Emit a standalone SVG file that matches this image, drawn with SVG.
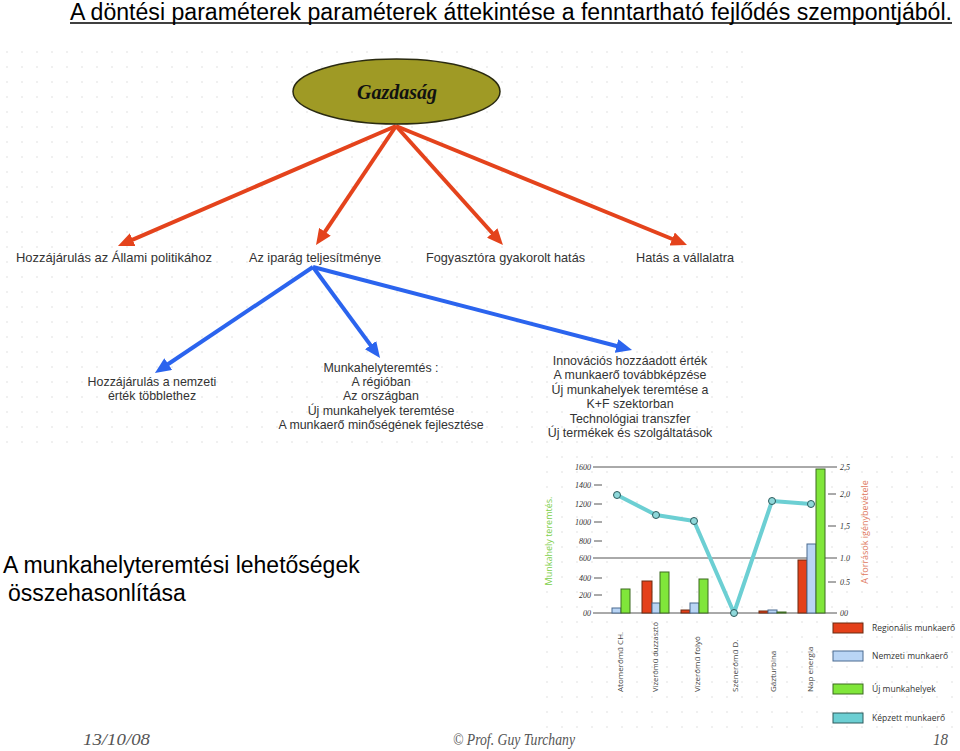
<svg xmlns="http://www.w3.org/2000/svg" width="960" height="751" viewBox="0 0 960 751">
<defs>
<pattern id="dots" width="15" height="15" patternUnits="userSpaceOnUse">
<circle cx="7" cy="7" r="0.8" fill="#dcdcdc"/>
</pattern>
<marker id="ahR" markerUnits="userSpaceOnUse" viewBox="0 0 16 14" markerWidth="16" markerHeight="14" refX="8" refY="7" orient="auto">
<path d="M0,0 L16,7 L0,14 Z" fill="#e4431c"/>
</marker>
<marker id="ahB" markerUnits="userSpaceOnUse" viewBox="0 0 16 14" markerWidth="16" markerHeight="14" refX="8" refY="7" orient="auto">
<path d="M0,0 L16,7 L0,14 Z" fill="#2b64ee"/>
</marker>
</defs>
<style>
.lbl{font-family:"Liberation Sans",Arial,sans-serif;font-size:12.4px;fill:#333}
.blk{font-family:"Liberation Sans",Arial,sans-serif;font-size:12.4px;fill:#333;text-anchor:middle}
.ax{font-family:"Liberation Serif",serif;font-style:italic;font-size:8px;fill:#333}
.xl{font-family:"Open Sans","Noto Sans",sans-serif;font-size:8px;fill:#444}
.lg{font-family:"Open Sans","Noto Sans",sans-serif;font-size:8.5px;fill:#333}
.red{stroke:#e4431c;stroke-width:4;fill:none;marker-end:url(#ahR)}
.blue{stroke:#2b64ee;stroke-width:4;fill:none;marker-end:url(#ahB)}
.br{fill:#e4401a;stroke:#6a2a10;stroke-width:1}
.bb{fill:#b9d5f5;stroke:#4a6a90;stroke-width:1}
.bg{fill:#80e63a;stroke:#3d6a20;stroke-width:1}
.gl{stroke:#555;stroke-width:1}
.foot{font-family:"Liberation Serif",serif;font-style:italic;font-size:17px;fill:#555}
.sub{font-family:"Liberation Sans",Arial,sans-serif;font-size:23px;fill:#000}
</style>
<rect width="960" height="751" fill="#fff"/>
<rect x="0" y="38" width="748" height="418" fill="url(#dots)"/>
<rect x="540" y="456" width="420" height="272" fill="url(#dots)"/>

<g id="title">
<text x="70" y="20" font-family="Liberation Sans, Arial, sans-serif" font-size="23" fill="#000" textLength="882" lengthAdjust="spacingAndGlyphs">A döntési paraméterek paraméterek áttekintése a fenntartható fejlődés szempontjából.</text>
<line x1="70" y1="23" x2="952" y2="23" stroke="#000" stroke-width="1.5"/>
</g>

<g id="connectors">
<path class="red" d="M396,126 L125.3,242.8"/>
<path class="red" d="M396,126 L320.5,238.4"/>
<path class="red" d="M396,126 L497.6,239"/>
<path class="red" d="M396,126 L679.6,242"/>
<path class="blue" d="M313,267 L161.6,368.5"/>
<path class="blue" d="M313,267 L375.3,351.6"/>
<path class="blue" d="M313,267 L624.3,348"/>
</g>

<g id="gazdasag">
<ellipse cx="396.5" cy="91.5" rx="103.5" ry="32.5" fill="#9f9a25" stroke="#2a2a10" stroke-width="1.5"/>
<text x="397" y="99" text-anchor="middle" font-family="Liberation Serif, serif" font-style="italic" font-weight="bold" font-size="20" fill="#111">Gazdaság</text>
</g>

<g id="allami"><text class="lbl" x="16" y="262" textLength="196" lengthAdjust="spacingAndGlyphs">Hozzájárulás az Állami politikához</text></g>
<g id="iparag"><text class="lbl" x="249" y="262" textLength="132" lengthAdjust="spacingAndGlyphs">Az iparág teljesítménye</text></g>
<g id="fogyaszto"><text class="lbl" x="426" y="262" textLength="159" lengthAdjust="spacingAndGlyphs">Fogyasztóra gyakorolt hatás</text></g>
<g id="vallalat"><text class="lbl" x="636" y="262" textLength="98" lengthAdjust="spacingAndGlyphs">Hatás a vállalatra</text></g>

<g id="nemzeti">
<text class="blk" x="152" y="386">Hozzájárulás a nemzeti</text>
<text class="blk" x="152" y="400">érték többlethez</text>
</g>
<g id="munkahely">
<text class="blk" x="381" y="372">Munkahelyteremtés :</text>
<text class="blk" x="381" y="386">A régióban</text>
<text class="blk" x="381" y="400">Az országban</text>
<text class="blk" x="381" y="415">Új munkahelyek teremtése</text>
<text class="blk" x="381" y="429">A munkaerő minőségének fejlesztése</text>
</g>
<g id="innovacio">
<text class="blk" x="630" y="365">Innovációs hozzáadott érték</text>
<text class="blk" x="630" y="379">A munkaerő továbbképzése</text>
<text class="blk" x="630" y="394">Új munkahelyek teremtése a</text>
<text class="blk" x="630" y="408">K+F szektorban</text>
<text class="blk" x="630" y="423">Technológiai transzfer</text>
<text class="blk" x="630" y="437">Új termékek és szolgáltatások</text>
</g>

<g id="subtitle">
<text class="sub" x="3" y="573">A munkahelyteremtési lehetőségek</text>
<text class="sub" x="8" y="601">összehasonlítása</text>
</g>

<g id="chart">
<line class="gl" x1="593" y1="467" x2="837" y2="467"/>
<line class="gl" x1="593" y1="558" x2="837" y2="558"/>
<line class="gl" x1="593" y1="613" x2="837" y2="613"/>
<g class="gl">
<line x1="594" y1="485" x2="602" y2="485"/>
<line x1="594" y1="504" x2="602" y2="504"/>
<line x1="594" y1="522" x2="602" y2="522"/>
<line x1="594" y1="541" x2="602" y2="541"/>
<line x1="594" y1="578" x2="602" y2="578"/>
<line x1="594" y1="595" x2="602" y2="595"/>
<line x1="828" y1="494" x2="836" y2="494"/>
<line x1="828" y1="526" x2="836" y2="526"/>
<line x1="828" y1="582" x2="836" y2="582"/>
</g>
<g class="ax" text-anchor="end">
<text x="591" y="470">1600</text>
<text x="591" y="488">1400</text>
<text x="591" y="507">1200</text>
<text x="591" y="525">1000</text>
<text x="591" y="544">800</text>
<text x="591" y="561">600</text>
<text x="591" y="581">400</text>
<text x="591" y="598">200</text>
<text x="591" y="616">00</text>
</g>
<g class="ax">
<text x="840" y="470">2,5</text>
<text x="840" y="497">2,0</text>
<text x="840" y="529">1,5</text>
<text x="840" y="561">1.0</text>
<text x="840" y="585">0.5</text>
<text x="840" y="616">00</text>
</g>
<text x="0" y="0" transform="translate(552,541) rotate(-90)" text-anchor="middle" font-family="Open Sans, Noto Sans, sans-serif" font-size="9" fill="#7ccf4a">Munkahely teremtés.</text>
<text x="0" y="0" transform="translate(868,532) rotate(-90)" text-anchor="middle" font-family="Open Sans, Noto Sans, sans-serif" font-size="9" fill="#e07a60">A források igénybevétele</text>

<rect class="bb" x="612" y="608" width="9" height="5"/>
<rect class="bg" x="621" y="589" width="9" height="24"/>
<rect class="br" x="642" y="581" width="10" height="32"/>
<rect class="bb" x="652" y="603" width="8" height="10"/>
<rect class="bg" x="660" y="572" width="9" height="41"/>
<rect class="br" x="681" y="610" width="9" height="3"/>
<rect class="bb" x="690" y="603" width="9" height="10"/>
<rect class="bg" x="699" y="579" width="9" height="34"/>
<rect class="br" x="759" y="611" width="9" height="2"/>
<rect class="bb" x="768" y="610" width="9" height="3"/>
<rect class="bg" x="777" y="612" width="9" height="1"/>
<rect class="br" x="798" y="560" width="9" height="53"/>
<rect class="bb" x="807" y="544" width="9" height="69"/>
<rect class="bg" x="816" y="469" width="9" height="144"/>

<polyline points="617,495 656,515 694,521 734,613 772,501 811,504" fill="none" stroke="#6ccfd3" stroke-width="4" stroke-linejoin="round"/>
<g fill="#8fd8da" stroke="#2c5a5c" stroke-width="1">
<circle cx="617" cy="495" r="3.5"/>
<circle cx="656" cy="515" r="3.5"/>
<circle cx="694" cy="521" r="3.5"/>
<circle cx="734" cy="613" r="3.5"/>
<circle cx="772" cy="501" r="3.5"/>
<circle cx="811" cy="504" r="3.5"/>
</g>

<g class="xl">
<text transform="translate(623,692) rotate(-90)">Atomerőmű CH.</text>
<text transform="translate(658,692) rotate(-90)" textLength="70" lengthAdjust="spacingAndGlyphs">Vízerőmű duzzasztó</text>
<text transform="translate(700,692) rotate(-90)">Vízerőmű folyó</text>
<text transform="translate(738,692) rotate(-90)">Szénerőmű D.</text>
<text transform="translate(776,692) rotate(-90)">Gázturbina</text>
<text transform="translate(813,692) rotate(-90)">Nap energia</text>
</g>
</g>

<g id="legend">
<rect class="br" x="833" y="623" width="30" height="10"/>
<rect class="bb" x="833" y="651" width="30" height="10"/>
<rect class="bg" x="833" y="684" width="30" height="10"/>
<rect x="833" y="713" width="30" height="10" fill="#6ccfd3" stroke="#2c5a5c" stroke-width="1"/>
<text class="lg" x="872" y="631">Regionális munkaerő</text>
<text class="lg" x="872" y="659">Nemzeti munkaerő</text>
<text class="lg" x="872" y="692">Új munkahelyek</text>
<text class="lg" x="872" y="721">Képzett munkaerő</text>
</g>

<g id="footer">
<text class="foot" x="83" y="745" textLength="67" lengthAdjust="spacingAndGlyphs">13/10/08</text>
<text class="foot" x="453" y="745" textLength="122" lengthAdjust="spacingAndGlyphs">© Prof. Guy Turchany</text>
<text class="foot" x="933" y="745" textLength="15" lengthAdjust="spacingAndGlyphs">18</text>
</g>
</svg>
